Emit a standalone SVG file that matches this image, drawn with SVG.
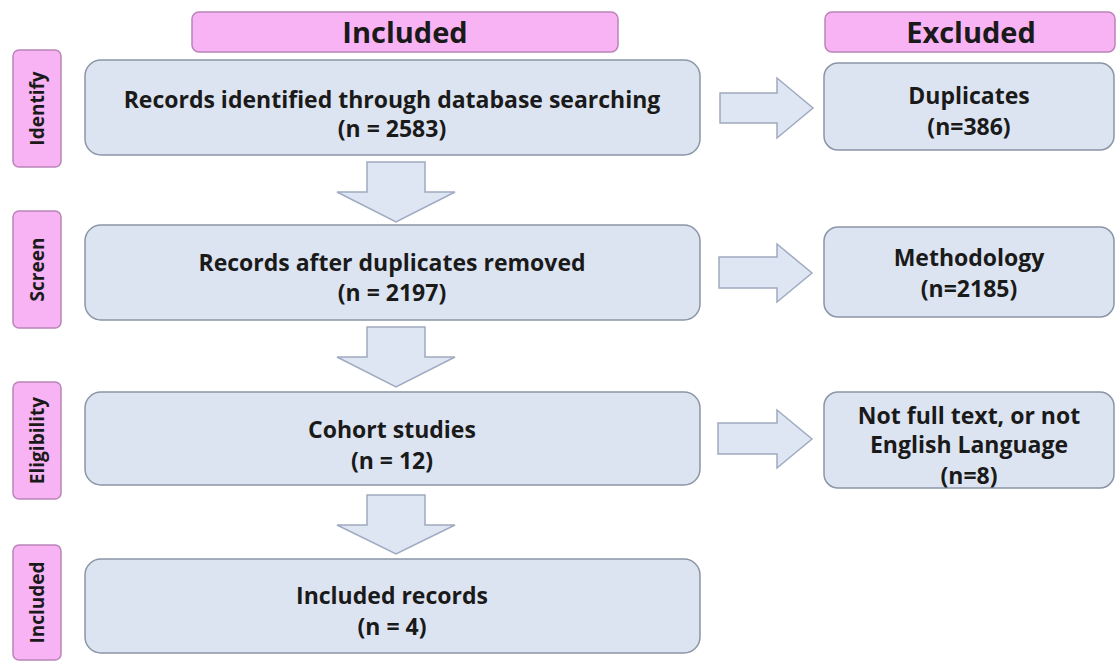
<svg xmlns="http://www.w3.org/2000/svg" width="1116" height="662" viewBox="0 0 1116 662">
<style>
.hdr{fill:#f8b3f4;stroke:#b985b8;stroke-width:1.5}
.side{fill:#f8b3f4;stroke:#b985b8;stroke-width:1.5}
.box{fill:#dde4f1;stroke:#8c95a6;stroke-width:1.5}
.arr{fill:#dee5f3;stroke:#a0aac0;stroke-width:1.5}
.t{font-family:"Open Sans","Liberation Sans",sans-serif;font-weight:700;fill:#1a1a1a;text-anchor:middle}
.ht{font-size:29px}
.st{font-size:19px}
.bt{font-size:23px}
.rt{font-size:23px}
</style>
<rect width="1116" height="662" fill="#ffffff"/>
<g id="header-included"><rect class="hdr" x="192" y="12" width="426" height="40" rx="7"/><text class="t ht" x="405" y="43">Included</text></g>
<g id="header-excluded"><rect class="hdr" x="825" y="12" width="290" height="40" rx="7"/><text class="t ht" x="971" y="43">Excluded</text></g>
<g id="side-identify"><rect class="side" x="13" y="50" width="48" height="117" rx="6"/><text class="t st" transform="translate(44,108.5) rotate(-90)">Identify</text></g>
<g id="side-screen"><rect class="side" x="13" y="211" width="48" height="117" rx="6"/><text class="t st" transform="translate(44,269.5) rotate(-90)">Screen</text></g>
<g id="side-eligibility"><rect class="side" x="13" y="382" width="48" height="117" rx="6"/><text class="t st" transform="translate(44,440.5) rotate(-90)">Eligibility</text></g>
<g id="side-included"><rect class="side" x="13" y="545" width="48" height="115" rx="6"/><text class="t st" transform="translate(44,602.5) rotate(-90)">Included</text></g>
<g id="box-identified"><rect class="box" x="85" y="60" width="615" height="95" rx="16"/><text class="t bt" x="392" y="108">Records identified through database searching</text><text class="t bt" x="392" y="137">(n = 2583)</text></g>
<g id="box-screened"><rect class="box" x="85" y="225" width="615" height="95" rx="16"/><text class="t bt" x="392" y="271">Records after duplicates removed</text><text class="t bt" x="392" y="301">(n = 2197)</text></g>
<g id="box-cohort"><rect class="box" x="85" y="392" width="615" height="93" rx="16"/><text class="t bt" x="392" y="438">Cohort studies</text><text class="t bt" x="392" y="469">(n = 12)</text></g>
<g id="box-included"><rect class="box" x="85" y="559" width="615" height="94" rx="16"/><text class="t bt" x="392" y="604">Included records</text><text class="t bt" x="392" y="635">(n = 4)</text></g>
<g id="box-duplicates"><rect class="box" x="824" y="63" width="290" height="87" rx="14"/><text class="t rt" x="969" y="104">Duplicates</text><text class="t rt" x="969" y="135">(n=386)</text></g>
<g id="box-methodology"><rect class="box" x="824" y="227" width="290" height="90" rx="14"/><text class="t rt" x="969" y="266">Methodology</text><text class="t rt" x="969" y="297">(n=2185)</text></g>
<g id="box-notfull"><rect class="box" x="824" y="392" width="290" height="96" rx="14"/><text class="t rt" x="969" y="424">Not full text, or not</text><text class="t rt" x="969" y="453">English Language</text><text class="t rt" x="969" y="484">(n=8)</text></g>
<g id="connectors">
<polygon class="arr" points="720,93 777,93 777,78 813,108 777,138 777,123 720,123"/>
<polygon class="arr" points="719,257 777,257 777,244 812,273 777,302 777,288 719,288"/>
<polygon class="arr" points="718,423 777,423 777,410 812,439 777,468 777,454 718,454"/>
<polygon class="arr" points="367,162 425,162 425,192 455,192 396,222 337,192 367,192"/>
<polygon class="arr" points="367,327 425,327 425,357 455,357 396,387 337,357 367,357"/>
<polygon class="arr" points="367,495 425,495 425,525 455,525 396,554 337,525 367,525"/>
</g>
</svg>
